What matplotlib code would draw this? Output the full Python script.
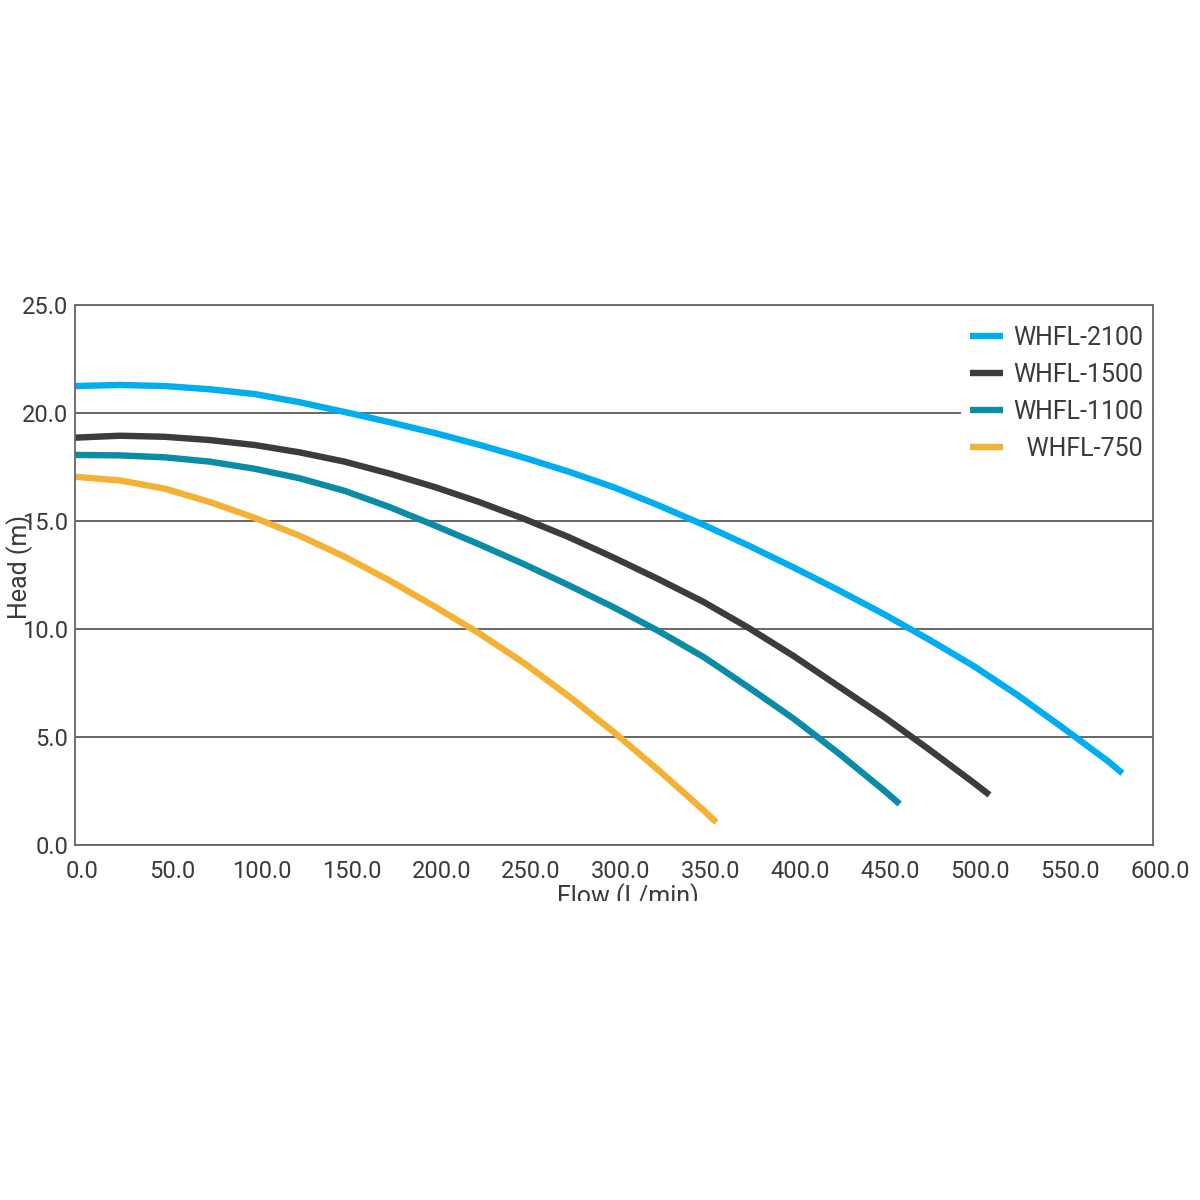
"""
Pump performance curves (head vs flow) for the WHFL series.
"""

import matplotlib
matplotlib.use("Agg")
import matplotlib.pyplot as plt
import matplotlib.transforms as mtransforms
from matplotlib.patches import Rectangle

plt.rcParams["font.family"] = ["Roboto", "DejaVu Sans"]

# ── data ───────────────────────────────────────────────────────────────
flow_2100 = [0, 25, 50, 75, 100, 125, 150, 175, 200, 225, 250, 275, 300, 325,
             350, 375, 400, 425, 450, 475, 500, 525, 550, 575, 583]
head_2100 = [21.25, 21.3, 21.25, 21.1, 20.88, 20.5, 20.05, 19.58, 19.08, 18.53,
             17.93, 17.28, 16.56, 15.72, 14.82, 13.86, 12.85, 11.8, 10.7, 9.53,
             8.3, 6.92, 5.42, 3.88, 3.32]

flow_1500 = [0, 25, 50, 75, 100, 125, 150, 175, 200, 225, 250, 275, 300, 325,
             350, 375, 400, 425, 450, 475, 500, 509]
head_1500 = [18.86, 18.95, 18.9, 18.75, 18.52, 18.18, 17.75, 17.2, 16.58, 15.88,
             15.1, 14.25, 13.3, 12.3, 11.25, 10.05, 8.75, 7.35, 5.95, 4.45,
             2.9, 2.32]

flow_1100 = [0, 25, 50, 75, 100, 125, 150, 175, 200, 225, 250, 275, 300, 325,
             350, 375, 400, 425, 450, 459]
head_1100 = [18.06, 18.04, 17.95, 17.75, 17.42, 16.98, 16.4, 15.65, 14.8, 13.92,
             13.0, 12.02, 11.0, 9.9, 8.7, 7.3, 5.85, 4.25, 2.55, 1.9]

flow_750 = [0, 25, 50, 75, 100, 125, 150, 175, 200, 225, 250, 275, 300, 325,
            350, 357]
head_750 = [17.05, 16.88, 16.5, 15.88, 15.15, 14.32, 13.35, 12.25, 11.05, 9.8,
            8.42, 6.88, 5.22, 3.45, 1.6, 1.05]

x_ticks = [0, 50, 100, 150, 200, 250, 300, 350, 400, 450, 500, 550, 600]
y_ticks = [0, 5, 10, 15, 20, 25]

series = [
    ("WHFL-2100", flow_2100, head_2100, "#00AEEF"),
    ("WHFL-1500", flow_1500, head_1500, "#3C3C3E"),
    ("WHFL-1100", flow_1100, head_1100, "#0A8BA6"),
    ("  WHFL-750", flow_750, head_750, "#F4B134"),
]

text_color = "#3a3a3a"

fig = plt.figure(figsize=(12, 12), dpi=100)
ax = fig.add_axes([0.0625, 0.2958, 0.8983, 0.45])

for label, x, y, color in series:
    ax.plot(x, y, color=color, linewidth=4.6, label=label,
            solid_capstyle="butt", solid_joinstyle="round")

ax.set_xlim(0, 600)
ax.set_ylim(0, 25)
ax.set_xticks(x_ticks)
ax.set_yticks(y_ticks)
ax.set_xticklabels([f"{v:.1f}" for v in x_ticks])
ax.set_yticklabels([f"{v:.1f}" for v in y_ticks])
ax.tick_params(axis="both", length=0, labelsize=17, colors=text_color)
ax.tick_params(axis="x", pad=11)
ax.tick_params(axis="y", pad=5)

# labels sit a little right of their ticks in the reference
offset = mtransforms.ScaledTranslation(7 / 100, 0, fig.dpi_scale_trans)
for lbl in ax.get_xticklabels():
    lbl.set_transform(lbl.get_transform() + offset)

ax.grid(axis="y", color="#5a5a5a", linewidth=1.3)
ax.set_axisbelow(True)
for spine in ax.spines.values():
    spine.set_color("#666666")
    spine.set_linewidth(1.3)

leg = ax.legend(
    loc="upper right",
    bbox_to_anchor=(1.011, 1.001),
    fontsize=18,
    frameon=True,
    facecolor="white",
    edgecolor="none",
    framealpha=1,
    fancybox=False,
    handlelength=1.32,
    handletextpad=0.42,
    labelspacing=0.52,
    borderpad=0.35,
)
for t in leg.get_texts():
    t.set_color(text_color)

fig.text(20 / 1200, 1 - 567 / 1200, "Head (m)", rotation=90, ha="center",
         va="center", fontsize=18, color=text_color)
fig.text(628 / 1200, 1 - 904 / 1200, "Flow (L/min)", ha="center",
         va="baseline", fontsize=18, color=text_color)

# the reference cuts the x-axis title off at the bottom
fig.patches.append(Rectangle((0, 0), 1, 1 - 901 / 1200, transform=fig.transFigure,
                             facecolor="white", edgecolor="none", zorder=10))

fig.savefig("out.png", dpi=100, facecolor="white")
plt.close(fig)
